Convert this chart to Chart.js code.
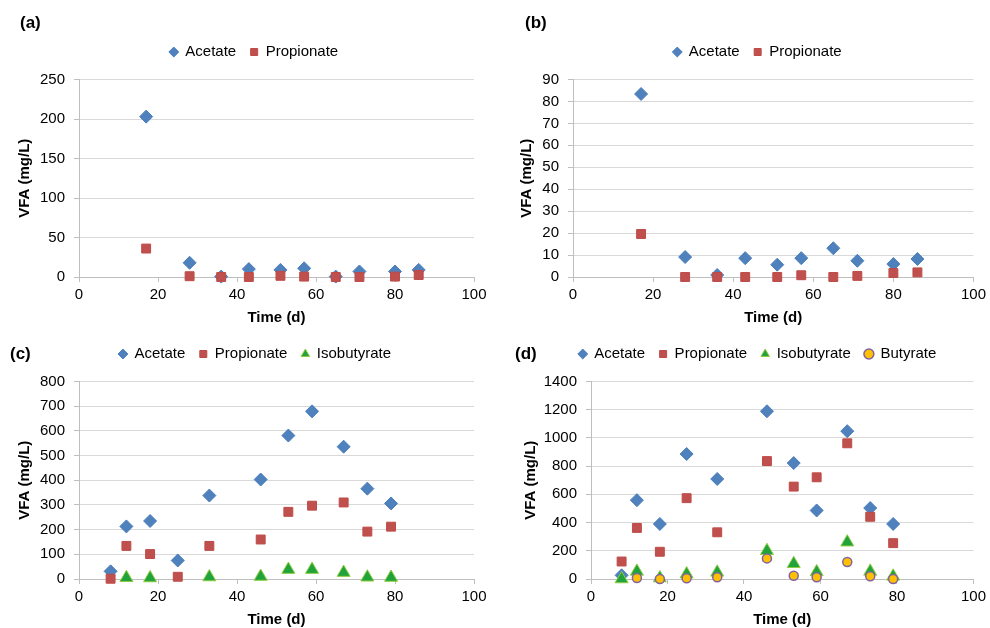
<!DOCTYPE html>
<html>
<head>
<meta charset="utf-8">
<script src="https://cdn.jsdelivr.net/npm/chart.js@4.4.1/dist/chart.umd.min.js"></script>
<style>
  body { margin: 0; background: #fff; }
  #wrap { position: relative; width: 990px; height: 628px; overflow: hidden; font-family: "Liberation Sans", Arial, sans-serif; }
  canvas { position: absolute; }
  .tag { position: absolute; font-weight: bold; font-size: 17px; line-height: 20px; color: #000; }
</style>
</head>
<body>
<div id="wrap">
  <canvas id="chartA" width="495" height="327" style="left:0;top:0"></canvas>
  <canvas id="chartB" width="495" height="327" style="left:495px;top:0"></canvas>
  <canvas id="chartC" width="495" height="299" style="left:0;top:330px"></canvas>
  <canvas id="chartD" width="495" height="299" style="left:495px;top:330px"></canvas>
  <div class="tag" style="left:20px;top:13px">(a)</div>
  <div class="tag" style="left:525px;top:13px">(b)</div>
  <div class="tag" style="left:10px;top:344px">(c)</div>
  <div class="tag" style="left:515px;top:344px">(d)</div>
</div>
<script>
/* ==== data (mg/L) ==== */
const days_ab = [17, 28, 36, 43, 51, 57, 65, 71, 80, 86];
const acetate_a = [203, 18, 0.5, 10, 9, 11, 0.5, 7, 7, 9];
const propionate_a = [36, 1, 0, 0, 1.5, 0.5, 0, 0, 0.5, 2.5];

const acetate_b = [83.4, 9.1, 0.9, 8.6, 5.6, 8.6, 13.1, 7.4, 5.9, 8.2];
const propionate_b = [19.6, 0, 0, 0, 0, 0.8, 0, 0.5, 1.8, 2.1];

const days_cd = [8, 12, 18, 25, 33, 46, 53, 59, 67, 73, 79];
const acetate_c = [31, 213, 235, 75, 338, 403, 581, 679, 536, 366, 306];
const propionate_c = [1, 134, 101, 9, 134, 160, 272, 297, 310, 192, 212];
const isobutyrate_c = [null, 5, 4, null, 8, 10, 38, 38, 26, 7, 6];

const acetate_d = [26, 559, 390, 886, 709, 1189, 822, 486, 1048, 503, 390];
const propionate_d = [124, 362, 193, 573, 331, 836, 655, 721, 962, 441, 254];
const isobutyrate_d = [0, 54, 7, 35, 47, 200, 108, 50, 261, 54, 19];
const butyrate_d = [null, 7, 0, 5, 12, 146, 23, 12, 120, 19, 0];

const yMax = [250, 90, 800, 1400];
const yStep = [50, 10, 100, 200];

/* ==== styles ==== */
Chart.defaults.font.family = '"Liberation Sans", Arial, sans-serif';
Chart.defaults.color = '#000';

const STYLE = {
    Acetate:     {pointStyle: 'rectRot',  backgroundColor: '#4F81BD', borderColor: '#4A7EBB', pointRadius: 6.5, borderWidth: 1, order: 4},
    Propionate:  {pointStyle: 'rect',     backgroundColor: '#C0504D', borderColor: '#BE4B48', pointRadius: 6.3, borderWidth: 1, order: 3},
    Isobutyrate: {pointStyle: 'triangle', backgroundColor: '#1FA33A', borderColor: '#8FCB3F', pointRadius: 7.5, borderWidth: 1, order: 2},
    Butyrate:    {pointStyle: 'circle',   backgroundColor: '#FFC000', borderColor: '#8064A2', pointRadius: 4.5, borderWidth: 1.5, order: 1}
};

function toPoints(days, values) {
    return days.map((d, i) => ({x: d, y: values[i]})).filter(p => p.y !== null);
}

// pushes the chart area down under the legend and moves the legend sideways
const legendTweak = {
    id: 'legendTweak',
    beforeInit(chart, args, opts) {
        const fit = chart.legend.fit;
        chart.legend.fit = function () {
            fit.call(this);
            this.height += opts.gap;
        };
    },
    afterLayout(chart, args, opts) {
        chart.legend.left += opts.shift;
        chart.legend.right += opts.shift;
    }
};

function buildChart(id, series, p) {
    const datasets = series.map(s => Object.assign({
        label: s.name,
        data: toPoints(s.days, s.values),
        showLine: false,
        clip: false
    }, STYLE[s.name]));

    return new Chart(document.getElementById(id), {
        type: 'scatter',
        data: {datasets: datasets},
        options: {
            responsive: false,
            animation: false,
            layout: {padding: {left: p.left, right: p.right, top: p.top, bottom: 0}},
            plugins: {
                tooltip: {enabled: false},
                legend: {
                    position: 'top',
                    align: 'center',
                    labels: {
                        usePointStyle: true,
                        boxWidth: 8,
                        boxHeight: 7,
                        padding: 14,
                        font: {size: 15},
                        color: '#000',
                        sort: (a, b) => a.datasetIndex - b.datasetIndex
                    }
                },
                legendTweak: {gap: 10, shift: p.shift}
            },
            scales: {
                x: {
                    type: 'linear',
                    min: 0,
                    max: 100,
                    ticks: {stepSize: 20, padding: 4, maxRotation: 0, font: {size: 15}, color: '#000'},
                    grid: {drawOnChartArea: false, color: '#bfbfbf', tickLength: 5},
                    border: {color: '#bfbfbf'},
                    title: {display: true, text: 'Time (d)', font: {size: 15, weight: 'bold'}, padding: {top: 5, bottom: 0}},
                    afterFit(scale) { scale.height = 50; }
                },
                y: {
                    min: 0,
                    max: p.yMax,
                    ticks: {stepSize: p.yStep, padding: 9, font: {size: 15}, color: '#000', callback: v => String(v)},
                    grid: {color: '#d9d9d9', tickColor: '#bfbfbf', tickLength: 5},
                    border: {color: '#bfbfbf'},
                    title: {display: true, text: 'VFA (mg/L)', font: {size: 15, weight: 'bold'}, padding: {top: 0, bottom: 0}},
                    afterFit(scale) { scale.width = p.yWidth; }
                }
            }
        },
        plugins: [legendTweak]
    });
}

buildChart('chartA', [
    {name: 'Acetate', days: days_ab, values: acetate_a},
    {name: 'Propionate', days: days_ab, values: propionate_a}
], {left: 16, right: 21, top: 30.5, yWidth: 63, shift: 9, yMax: yMax[0], yStep: yStep[0]});

buildChart('chartB', [
    {name: 'Acetate', days: days_ab, values: acetate_b},
    {name: 'Propionate', days: days_ab, values: propionate_b}
], {left: 23, right: 13, top: 30.5, yWidth: 55, shift: 10, yMax: yMax[1], yStep: yStep[1]});

buildChart('chartC', [
    {name: 'Acetate', days: days_cd, values: acetate_c},
    {name: 'Propionate', days: days_cd, values: propionate_c},
    {name: 'Isobutyrate', days: days_cd, values: isobutyrate_c}
], {left: 16, right: 21, top: 2.5, yWidth: 63, shift: 10, yMax: yMax[2], yStep: yStep[2]});

buildChart('chartD', [
    {name: 'Acetate', days: days_cd, values: acetate_d},
    {name: 'Propionate', days: days_cd, values: propionate_d},
    {name: 'Isobutyrate', days: days_cd, values: isobutyrate_d},
    {name: 'Butyrate', days: days_cd, values: butyrate_d}
], {left: 27, right: 13, top: 2.5, yWidth: 69, shift: 8, yMax: yMax[3], yStep: yStep[3]});
</script>
</body>
</html>
